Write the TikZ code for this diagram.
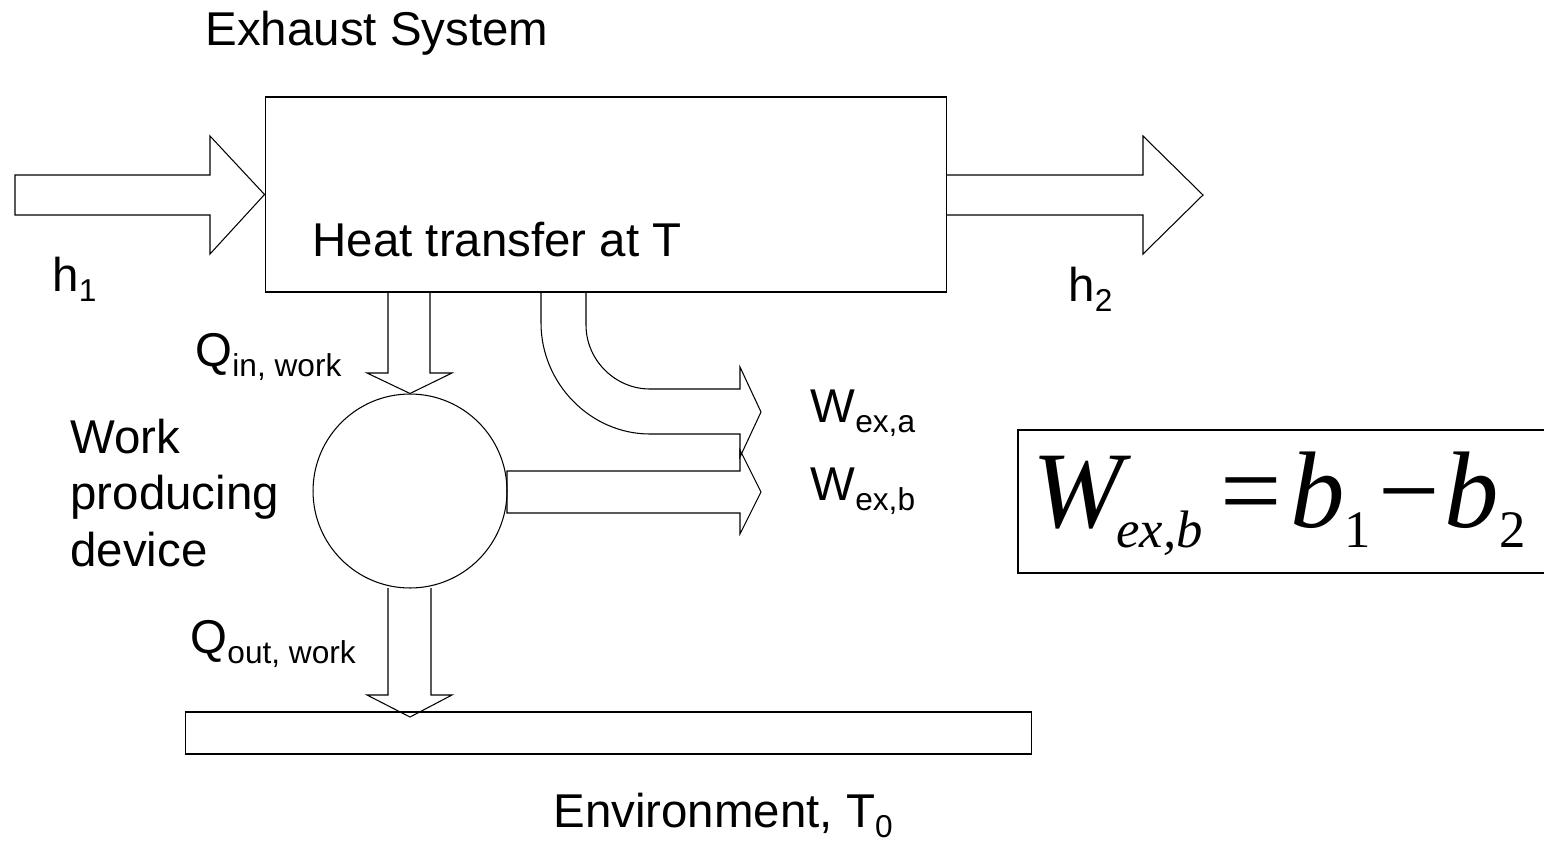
\documentclass[tikz,border=0pt]{standalone}
\usepackage{fontspec}
\setmainfont{Liberation Sans}
\newfontfamily\timesfont{Liberation Serif}
\usetikzlibrary{positioning}
\newcommand{\lowsub}[1]{\raisebox{-0.23em}{\fontsize{18}{20}\selectfont #1}}
\newcommand{\eqsub}[1]{\raisebox{-0.19em}{\fontsize{30}{33}\selectfont #1}}
\tikzset{
	label text/.style={anchor=base west, inner sep=0pt, font=\fontsize{27}{32.4}\selectfont},
	frame box/.style={draw=black, inner sep=0pt},
}

\begin{document}
\begin{tikzpicture}[x=0.02cm, y=-0.02cm, line width=0.6pt]
	\useasboundingbox (0,0) rectangle (1544,842);

	% Exhaust system
	\node[frame box, minimum width=13.64cm, minimum height=3.9cm] (exhaust) at (606,194.5) {};
	\node[label text] (extitle) at (205,45) {Exhaust System};
	\node[label text] (heat) at (312,256) {Heat transfer at T};

	% Inlet h1
	\draw (15,175) -- (210,175) -- (210,136) -- (exhaust.west) -- (210,254) -- (210,215) -- (15,215) -- cycle;
	\node[label text] (hin) at (52,291) {h\lowsub{1}};

	% Outlet h2
	\draw (947,175) -- (1143,175) -- (1143,136) -- (1203,195) -- (1143,254) -- (1143,215) -- (947,215);
	\node[label text] (hout) at (1068,301) {h\lowsub{2}};

	% Work producing device
	\node[frame box, circle, minimum size=3.88cm] (device) at (410,491) {};
	\node[label text, anchor=west, align=left] (devlabel) at (70,493) {Work\\producing\\device};

	% Q in
	\draw (388,292) -- (388,373) -- (367,373) -- (device.north) -- (452,373) -- (430,373) -- (430,292);
	\node[label text] (qin) at (195,366) {Q\lowsub{in, work}};

	% W ex,a (curved)
	\draw (541,292) -- (541,323) .. controls (541,383) and (590,434) .. (650,434) -- (740,434)
		-- (740,457) -- (761,412) -- (740,367) -- (740,389) -- (650,389)
		.. controls (615,389) and (586,360) .. (586,325) -- (586,292);
	\node[label text] (wexa) at (810,422) {W\lowsub{ex,a}};

	% W ex,b
	\draw (507,471) -- (740,471) -- (740,450) -- (761,492) -- (740,534) -- (740,513) -- (507,513) -- cycle;
	\node[label text] (wexb) at (810,500) {W\lowsub{ex,b}};

	% Environment
	\node[frame box, minimum width=16.94cm, minimum height=0.84cm] (env) at (608.5,733) {};
	\draw (388,588) -- (388,695) -- (367,695) -- (410,717) -- (452,695) -- (431,695) -- (431,588);
	\node[label text] (qout) at (190,653) {Q\lowsub{out, work}};
	\node[label text] (envlabel) at (553,827) {Environment, T\lowsub{0}};

	% Formula
	\draw (1546,430) -- (1018,430) -- (1018,573) -- (1546,573);
	\node[anchor=base west, inner sep=0pt, font=\timesfont\fontsize{62}{68}\selectfont] (formula) at (1032,527)
		{\itshape W\kern-4pt\eqsub{ex,b}\upshape\kern10pt=\kern5pt\itshape b\eqsub{\upshape 1}\upshape\kern4pt\textminus\kern3pt\itshape b\eqsub{\upshape 2}};
\end{tikzpicture}
\end{document}
